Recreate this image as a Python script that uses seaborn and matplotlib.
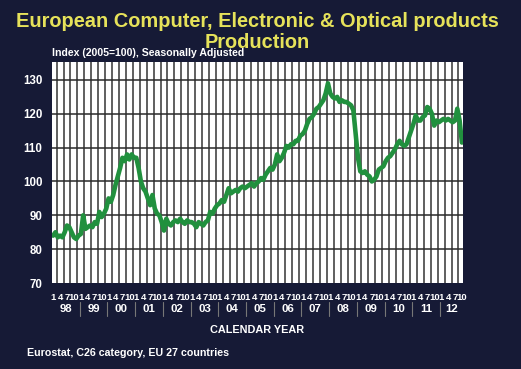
import numpy as np
import pandas as pd
import matplotlib
matplotlib.use("Agg")
import matplotlib.pyplot as plt
import seaborn as sns

# ---- data (monthly index, Jan 1998 .. Oct 2012) ----
years = ["98", "99", "00", "01", "02", "03", "04", "05", "06", "07", "08", "09", "10", "11", "12"]
month_labels = ["1", "4", "7", "10"]
v1998 = [84, 85, 83.5, 84, 83.5, 85, 87, 86.5, 85, 83.5, 83, 84]
v1999 = [84.5, 90, 86, 86.5, 87, 86.5, 88, 87.5, 91, 89.5, 90.5, 92]
v2000 = [95, 94, 96, 99, 101.5, 104, 107, 106, 108, 106.5, 108, 107]
v2001 = [107, 104, 100, 98, 97, 95, 93, 96, 92, 90.5, 90, 88]
v2002 = [85.5, 89, 87.5, 87, 88, 88.5, 88, 89, 88, 87.5, 88.5, 88]
v2003 = [88, 87.5, 86.5, 88, 87.5, 87, 88, 88.5, 91, 90.5, 92, 93]
v2004 = [93.5, 94.5, 94, 96, 98, 96.5, 97, 97.5, 97, 98, 98.5, 98]
v2005 = [98.5, 99, 99.5, 98.5, 99.5, 100, 101, 100.5, 102, 103, 104, 103.5]
v2006 = [105, 108, 106, 107, 108.5, 110.5, 110, 111, 111, 112, 112, 113.5]
v2007 = [114, 115, 117, 118.5, 119, 120, 121.5, 122, 123, 124, 126, 129]
v2008 = [126, 125, 124.5, 125, 123.5, 124, 123.5, 123.5, 123, 122.5, 121, 114]
v2009 = [107, 103, 102.5, 103, 102, 101.5, 100, 100.5, 101.5, 103.5, 104, 104.5]
v2010 = [106, 107, 107.5, 108.5, 109.5, 111, 112, 111, 110.5, 111, 113, 115]
v2011 = [117, 119.5, 118, 118, 119, 119.5, 122, 121.5, 120, 116.5, 118, 117.5]
v2012 = [118, 118.5, 118, 118.5, 118, 117.5, 118, 121.5, 118, 111.5]

values = (v1998 + v1999 + v2000 + v2001 + v2002 + v2003 + v2004 + v2005 +
          v2006 + v2007 + v2008 + v2009 + v2010 + v2011 + v2012)
n = len(values)
df = pd.DataFrame({"month": np.arange(n), "index": values})

BG = "#161a36"
YEL = "#e6e25a"
GREEN = "#21903e"

sns.set_theme(style="white")
plt.rcParams["font.family"] = ["Liberation Sans", "DejaVu Sans"]
plt.rcParams["font.weight"] = "bold"

fig = plt.figure(figsize=(5.21, 3.69), dpi=100, facecolor=BG)
ax = fig.add_axes([0.0998, 0.233, 0.789, 0.599])
ax.set_facecolor("white")

sns.lineplot(data=df, x="month", y="index", ax=ax, color=GREEN, linewidth=3.3, zorder=3)

ax.set_xlim(-0.5, n - 0.5)
ax.set_ylim(70, 135.3)

# grid
for q in np.arange(1.5, n - 0.5, 3):
    ax.axvline(q, color="#444444", lw=1.2, zorder=1)
for yv in range(80, 131, 10):
    ax.axhline(yv, color="#2a2a2a", lw=1.1, zorder=1)

for s in ax.spines.values():
    s.set_visible(False)

ax.set_yticks(range(70, 131, 10))
ax.set_yticklabels([str(v) for v in range(70, 131, 10)], color="white",
                   fontsize=8.3, fontweight="bold")
ax.tick_params(axis="y", length=0, pad=7)

qpos = [i for i in range(n) if i % 3 == 0]
qlab = [month_labels[(i % 12) // 3] for i in qpos]
ax.set_xticks(qpos)
ax.set_xticklabels(qlab, color="white", fontsize=6.8, fontweight="bold")
ax.tick_params(axis="x", length=0, pad=7)
ax.set_xticks(np.arange(n), minor=True)
ax.tick_params(axis="x", which="minor", direction="in", length=3, color="#888888", width=0.8)
ax.set_xlabel("")
ax.set_ylabel("")

# year labels and separators
trans = ax.get_xaxis_transform()
for k, yr in enumerate(years):
    start = 12 * k
    end = min(12 * k + 11, n - 1)
    ax.text((start + end) / 2, -0.117, yr, transform=trans, ha="center", va="center",
            color="white", fontsize=8.2, fontweight="bold")
    if k > 0:
        ax.plot([start - 0.5, start - 0.5], [-0.088, -0.148], transform=trans,
                color="#777777", lw=0.8, clip_on=False)

fig.text(0.494, 0.943, "European Computer, Electronic & Optical products",
         ha="center", va="center", color=YEL, fontsize=14.4, fontweight="bold")
fig.text(0.494, 0.884, "Production", ha="center", va="center", color=YEL,
         fontsize=14.4, fontweight="bold")
fig.text(0.1, 0.857, "Index (2005=100), Seasonally Adjusted", ha="left", va="center",
         color="white", fontsize=7.6, fontweight="bold")
fig.text(0.494, 0.105, "CALENDAR YEAR", ha="center", va="center", color="white",
         fontsize=7.8, fontweight="bold")
fig.text(0.052, 0.043, "Eurostat, C26 category, EU 27 countries", ha="left", va="center",
         color="white", fontsize=7.7, fontweight="bold")

fig.savefig("out.png", dpi=100, facecolor=BG)
